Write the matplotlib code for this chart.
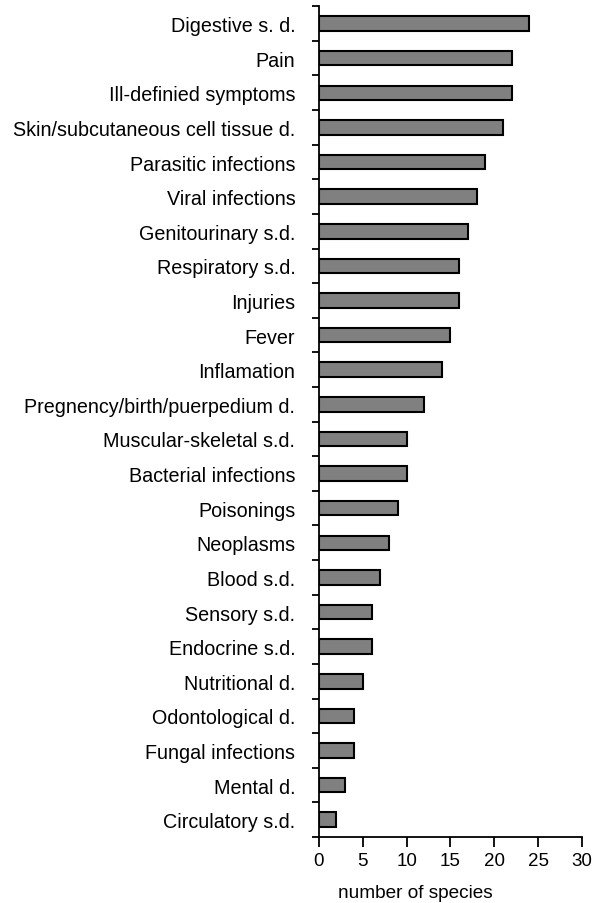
import matplotlib.pyplot as plt
import numpy as np

plt.rcParams['font.family'] = ['Liberation Sans', 'DejaVu Sans']

categories = ["Digestive s. d.", "Pain", "Ill-definied symptoms",
              "Skin/subcutaneous cell tissue d.", "Parasitic infections",
              "Viral infections", "Genitourinary s.d.", "Respiratory s.d.",
              "Injuries", "Fever", "Inflamation", "Pregnency/birth/puerpedium d.",
              "Muscular-skeletal s.d.", "Bacterial infections", "Poisonings",
              "Neoplasms", "Blood s.d.", "Sensory s.d.", "Endocrine s.d.",
              "Nutritional d.", "Odontological d.", "Fungal infections",
              "Mental d.", "Circulatory s.d."]
species = [24, 22, 22, 21, 19, 18, 17, 16, 16, 15, 14, 12,
           10, 10, 9, 8, 7, 6, 6, 5, 4, 4, 3, 2]
x_ticks = [0, 5, 10, 15, 20, 25, 30]

fig = plt.figure(figsize=(5.95, 9.04), dpi=100)
ax = fig.add_axes([0.536, 0.073, 0.442, 0.919])

n = len(categories)
pos = np.arange(n)[::-1]
ax.barh(pos, species, height=0.42, color='#808080', edgecolor='black', linewidth=1.5)

ax.set_ylim(-0.5, n - 0.5)
ax.set_xlim(0, 30)
ax.set_xticks(x_ticks)
ax.set_yticks(np.arange(n + 1) - 0.5)
ax.set_yticklabels([])
ax.set_yticks(pos, minor=True)
ax.set_yticklabels(categories, minor=True)
ax.tick_params(axis='y', which='major', length=5, width=1.3, direction='out')
ax.tick_params(axis='y', which='minor', length=0, pad=17, labelsize=14.2)
ax.tick_params(axis='x', length=7, width=1.3, direction='out', labelsize=13.5, pad=4)

for s in ['top', 'right']:
    ax.spines[s].set_visible(False)
for s in ['left', 'bottom']:
    ax.spines[s].set_linewidth(1.3)

ax.set_xlabel("number of species", fontsize=13.7)
ax.xaxis.set_label_coords(0.365, -0.056)

fig.savefig("out.png", dpi=100)
